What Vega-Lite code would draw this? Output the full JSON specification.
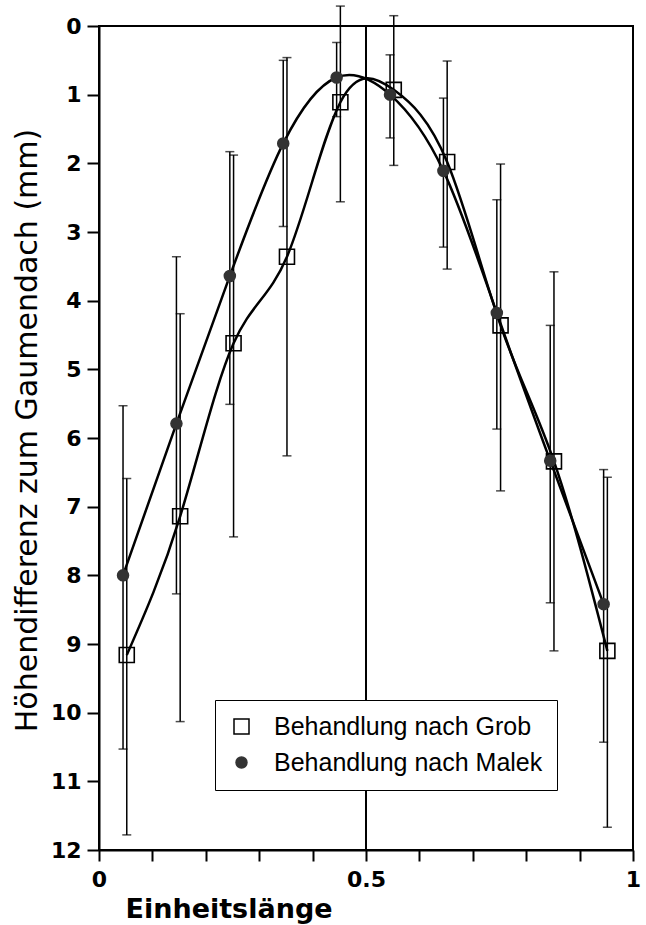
{
  "$schema": "https://vega.github.io/schema/vega-lite/v6.json",
  "width": 534,
  "height": 824,
  "autosize": {"type": "none"},
  "padding": {"left": 99, "top": 26, "right": 13, "bottom": 75},
  "background": "white",
  "config": {
    "view": {"stroke": "black", "strokeWidth": 2},
    "axis": {"domainColor": "black", "domainWidth": 2, "tickColor": "black", "tickWidth": 2, "labelColor": "black", "titleColor": "black", "grid": false}
  },
  "data": {
    "values": [
      {"series": "Behandlung nach Grob", "x": 0.052, "y": 9.16, "lo": 6.59, "hi": 11.78},
      {"series": "Behandlung nach Grob", "x": 0.152, "y": 7.14, "lo": 4.19, "hi": 10.13},
      {"series": "Behandlung nach Grob", "x": 0.252, "y": 4.62, "lo": 1.88, "hi": 7.44},
      {"series": "Behandlung nach Grob", "x": 0.352, "y": 3.36, "lo": 0.46, "hi": 6.26},
      {"series": "Behandlung nach Grob", "x": 0.452, "y": 1.11, "lo": -0.29, "hi": 2.56},
      {"series": "Behandlung nach Grob", "x": 0.552, "y": 0.93, "lo": -0.15, "hi": 2.03},
      {"series": "Behandlung nach Grob", "x": 0.652, "y": 1.98, "lo": 0.51, "hi": 3.54},
      {"series": "Behandlung nach Grob", "x": 0.752, "y": 4.36, "lo": 2.01, "hi": 6.77},
      {"series": "Behandlung nach Grob", "x": 0.852, "y": 6.34, "lo": 3.58, "hi": 9.10},
      {"series": "Behandlung nach Grob", "x": 0.952, "y": 9.10, "lo": 6.57, "hi": 11.67},
      {"series": "Behandlung nach Malek", "x": 0.045, "y": 8.00, "lo": 5.53, "hi": 10.53},
      {"series": "Behandlung nach Malek", "x": 0.145, "y": 5.79, "lo": 3.36, "hi": 8.27},
      {"series": "Behandlung nach Malek", "x": 0.245, "y": 3.64, "lo": 1.83, "hi": 5.51},
      {"series": "Behandlung nach Malek", "x": 0.345, "y": 1.71, "lo": 0.50, "hi": 2.92},
      {"series": "Behandlung nach Malek", "x": 0.445, "y": 0.75, "lo": 0.24, "hi": 1.32},
      {"series": "Behandlung nach Malek", "x": 0.545, "y": 1.00, "lo": 0.42, "hi": 1.63},
      {"series": "Behandlung nach Malek", "x": 0.645, "y": 2.11, "lo": 1.05, "hi": 3.22},
      {"series": "Behandlung nach Malek", "x": 0.745, "y": 4.18, "lo": 2.53, "hi": 5.87},
      {"series": "Behandlung nach Malek", "x": 0.845, "y": 6.33, "lo": 4.36, "hi": 8.40},
      {"series": "Behandlung nach Malek", "x": 0.945, "y": 8.42, "lo": 6.46, "hi": 10.43}
    ]
  },
  "encoding": {
    "x": {
      "field": "x", "type": "quantitative",
      "scale": {"domain": [0, 1], "nice": false, "zero": false},
      "axis": {
        "title": "Einheitslänge",
        "values": [0, 0.1, 0.2, 0.3, 0.4, 0.5, 0.6, 0.7, 0.8, 0.9, 1],
        "labelExpr": "datum.value == 0 ? '0' : datum.value == 0.5 ? '0.5' : datum.value == 1 ? '1' : ''",
        "labelFont": "DejaVu Sans", "labelFontWeight": "bold", "labelFontSize": 22,
        "labelPadding": 8, "labelFlush": false, "labelOverlap": false, "labelBound": false,
        "tickSize": 11,
        "titleFont": "DejaVu Sans", "titleFontWeight": "bold", "titleFontSize": 27,
        "titleX": 26, "titleY": 67, "titleAlign": "left", "titleBaseline": "alphabetic"
      }
    },
    "y": {
      "field": "y", "type": "quantitative",
      "scale": {"domain": [0, 12], "nice": false, "zero": false, "reverse": true},
      "axis": {
        "title": "Höhendifferenz zum Gaumendach (mm)",
        "values": [0, 1, 2, 3, 4, 5, 6, 7, 8, 9, 10, 11, 12],
        "labelFont": "DejaVu Sans", "labelFontWeight": "bold", "labelFontSize": 22,
        "labelPadding": 6, "tickSize": 12, "labelOverlap": false, "labelBound": false, "labelFlush": false,
        "titleFont": "DejaVu Sans", "titleFontWeight": "normal", "titleFontSize": 30,
        "titleX": -72, "titleY": 404, "titleBaseline": "middle", "titleAngle": -90
      }
    }
  },
  "layer": [
    {
      "mark": {"type": "rule", "color": "black", "strokeWidth": 2},
      "encoding": {"x": {"datum": 0.5}, "y": null}
    },
    {
      "mark": {"type": "rule", "color": "black", "strokeWidth": 1.5},
      "encoding": {
        "y": {"field": "lo", "type": "quantitative"},
        "y2": {"field": "hi"},
        "detail": {"field": "series", "type": "nominal"}
      }
    },
    {
      "mark": {"type": "tick", "orient": "horizontal", "color": "black", "size": 9, "thickness": 1.5},
      "encoding": {"y": {"field": "lo", "type": "quantitative"}}
    },
    {
      "mark": {"type": "tick", "orient": "horizontal", "color": "black", "size": 9, "thickness": 1.5},
      "encoding": {"y": {"field": "hi", "type": "quantitative"}}
    },
    {
      "mark": {"type": "line", "interpolate": "natural", "color": "black", "strokeWidth": 2.5},
      "encoding": {
        "detail": {"field": "series", "type": "nominal"},
        "order": {"field": "x", "type": "quantitative"}
      }
    },
    {
      "mark": {"type": "point", "filled": true, "strokeWidth": 1.6, "opacity": 1},
      "encoding": {
        "shape": {
          "field": "series", "type": "nominal",
          "scale": {"domain": ["Behandlung nach Grob", "Behandlung nach Malek"], "range": ["square", "circle"]},
          "legend": {
            "title": null, "orient": "none", "legendX": 116, "legendY": 674,
            "fillColor": "white", "strokeColor": "black", "padding": 14,
            "labelFont": "Liberation Sans", "labelFontSize": 25, "labelColor": "black",
            "labelOffset": 20, "rowPadding": 10, "labelLimit": 500,
            "encode": {"legend": {"update": {"strokeWidth": {"value": 2}}}}
          }
        },
        "fill": {
          "field": "series", "type": "nominal",
          "scale": {"domain": ["Behandlung nach Grob", "Behandlung nach Malek"], "range": ["transparent", "#333333"]}
        },
        "stroke": {
          "field": "series", "type": "nominal",
          "scale": {"domain": ["Behandlung nach Grob", "Behandlung nach Malek"], "range": ["black", "#333333"]}
        },
        "size": {
          "field": "series", "type": "nominal",
          "scale": {"domain": ["Behandlung nach Grob", "Behandlung nach Malek"], "range": [225, 120]}
        }
      }
    }
  ]
}
